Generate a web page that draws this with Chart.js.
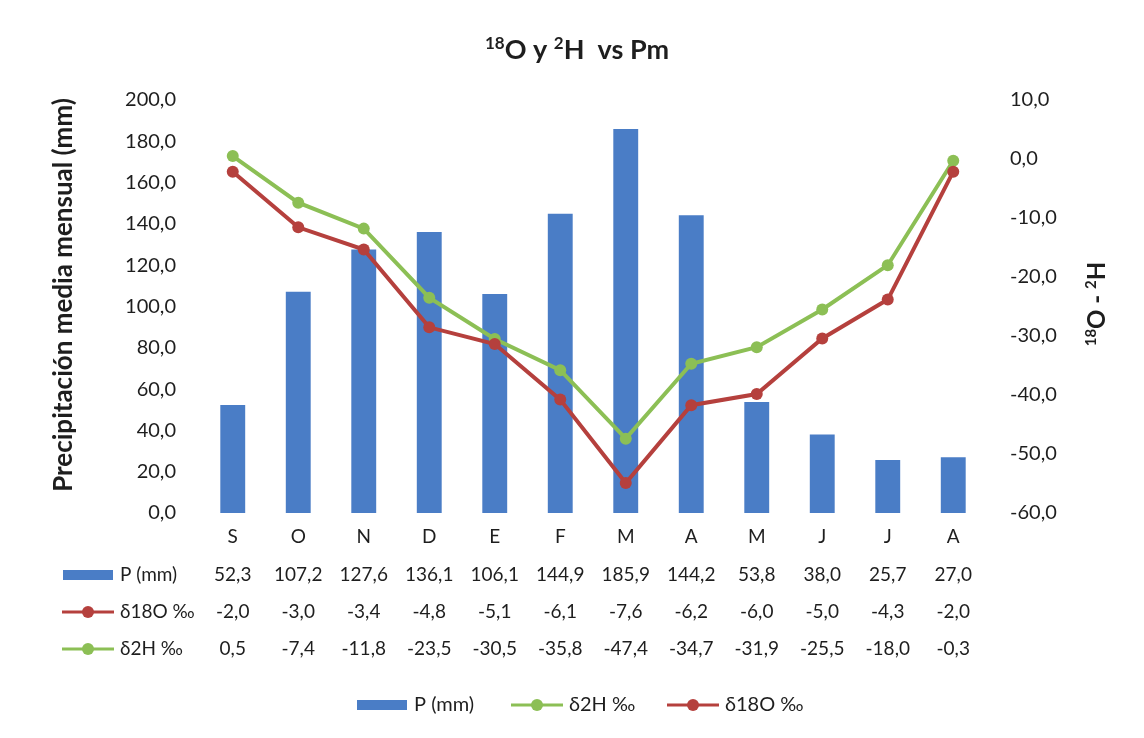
<!DOCTYPE html>
<html>
<head>
<meta charset="utf-8">
<title>18O y 2H vs Pm</title>
<script src="https://cdn.jsdelivr.net/npm/chart.js@4.4.1/dist/chart.umd.min.js"></script>
<style>
  html, body { margin: 0; padding: 0; background: #fff; }
  #wrap { width: 1144px; height: 738px; }
</style>
</head>
<body>
<div id="wrap"><canvas id="chart" width="1144" height="738"></canvas></div>
<script>
// Monthly data, hydrological year Sept -> Aug
const months = ['S', 'O', 'N', 'D', 'E', 'F', 'M', 'A', 'M', 'J', 'J', 'A'];
const precip = [52.3, 107.2, 127.6, 136.1, 106.1, 144.9, 185.9, 144.2, 53.8, 38.0, 25.7, 27.0];
const d18O = [-2.0, -3.0, -3.4, -4.8, -5.1, -6.1, -7.6, -6.2, -6.0, -5.0, -4.3, -2.0];
const d2H = [0.5, -7.4, -11.8, -23.5, -30.5, -35.8, -47.4, -34.7, -31.9, -25.5, -18.0, -0.3];

const FONT = 'Lato, "Open Sans", "DejaVu Sans", sans-serif';
const TEXT = '#1e1e1e';
const BLUE = '#4a7dc6';
const RED = '#b5403d';
const GREEN = '#8cbf55';

const fmt = v => v.toFixed(1).replace('.', ',');

// text with superscript runs, e.g. 18O
function richText(ctx, parts, x, y, size, weight) {
  const supSize = Math.round(size * 0.62);
  let w = 0;
  parts.forEach(p => {
    ctx.font = weight + ' ' + (p.sup ? supSize : size) + 'px ' + FONT;
    w += ctx.measureText(p.t).width;
  });
  let cx = x - w / 2;
  ctx.textAlign = 'left';
  ctx.textBaseline = 'alphabetic';
  parts.forEach(p => {
    ctx.font = weight + ' ' + (p.sup ? supSize : size) + 'px ' + FONT;
    ctx.fillText(p.t, cx, p.sup ? y - size * 0.36 : y);
    cx += ctx.measureText(p.t).width;
  });
}

function barKey(ctx, x, y) {
  ctx.fillStyle = BLUE;
  ctx.fillRect(x, y - 5, 50, 10);
}

function lineKey(ctx, x, y, color) {
  ctx.strokeStyle = color;
  ctx.lineWidth = 3;
  ctx.beginPath();
  ctx.moveTo(x, y);
  ctx.lineTo(x + 52, y);
  ctx.stroke();
  ctx.fillStyle = color;
  ctx.beginPath();
  ctx.arc(x + 26, y, 6, 0, Math.PI * 2);
  ctx.fill();
}

const decor = {
  id: 'decor',
  afterDraw(chart) {
    const ctx = chart.ctx;
    const xs = chart.scales.x;
    ctx.save();
    ctx.fillStyle = TEXT;

    // chart title
    richText(ctx, [
      { t: '18', sup: true }, { t: 'O y ' }, { t: '2', sup: true }, { t: 'H  vs Pm' }
    ], 577, 59, 27, 'bold');

    // left axis title
    ctx.save();
    ctx.translate(64, 295);
    ctx.rotate(-Math.PI / 2);
    ctx.font = 'bold 26px ' + FONT;
    ctx.textAlign = 'center';
    ctx.textBaseline = 'middle';
    ctx.fillText('Precipitación media mensual (mm)', 0, 0);
    ctx.restore();

    // right axis title
    ctx.save();
    ctx.translate(1105, 304);
    ctx.rotate(-Math.PI / 2);
    ctx.fillStyle = TEXT;
    richText(ctx, [
      { t: '18', sup: true }, { t: 'O - ' }, { t: '2', sup: true }, { t: 'H' }
    ], 0, 0, 24, 'bold');
    ctx.restore();

    // data table under the x axis
    const rows = [
      { label: 'P (mm)', data: precip, y: 575, key: 'bar' },
      { label: 'δ18O ‰', data: d18O, y: 612, key: RED },
      { label: 'δ2H ‰', data: d2H, y: 649, key: GREEN }
    ];
    rows.forEach(r => {
      if (r.key === 'bar') barKey(ctx, 63, r.y);
      else lineKey(ctx, 62, r.y, r.key);
      ctx.fillStyle = TEXT;
      ctx.font = '19px ' + FONT;
      ctx.textAlign = 'left';
      ctx.textBaseline = 'middle';
      ctx.fillText(r.label, 120, r.y);
      ctx.textAlign = 'center';
      r.data.forEach((v, i) => {
        ctx.fillText(fmt(v), xs.getPixelForValue(i), r.y);
      });
    });

    // legend
    const ly = 705;
    ctx.font = '20px ' + FONT;
    ctx.textAlign = 'left';
    ctx.textBaseline = 'middle';
    barKey(ctx, 357, ly);
    ctx.fillStyle = TEXT;
    ctx.fillText('P (mm)', 414, ly);
    lineKey(ctx, 511, ly, GREEN);
    ctx.fillStyle = TEXT;
    ctx.fillText('δ2H ‰', 569, ly);
    lineKey(ctx, 667, ly, RED);
    ctx.fillStyle = TEXT;
    ctx.fillText('δ18O ‰', 725, ly);

    ctx.restore();
  }
};

new Chart(document.getElementById('chart'), {
  data: {
    labels: months,
    datasets: [
      {
        type: 'line',
        label: 'δ18O ‰',
        data: d18O,
        yAxisID: 'yO',
        borderColor: RED,
        backgroundColor: RED,
        borderWidth: 4,
        pointRadius: 6,
        pointBorderWidth: 0,
        tension: 0,
        order: 1
      },
      {
        type: 'line',
        label: 'δ2H ‰',
        data: d2H,
        yAxisID: 'y2',
        borderColor: GREEN,
        backgroundColor: GREEN,
        borderWidth: 4,
        pointRadius: 6,
        pointBorderWidth: 0,
        tension: 0,
        order: 2
      },
      {
        type: 'bar',
        label: 'P (mm)',
        data: precip,
        yAxisID: 'y',
        backgroundColor: BLUE,
        barPercentage: 0.38,
        categoryPercentage: 1,
        order: 3
      }
    ]
  },
  options: {
    responsive: false,
    animation: false,
    layout: { padding: { top: 100, left: 0, right: 0, bottom: 0 } },
    plugins: {
      legend: { display: false },
      title: { display: false },
      tooltip: { enabled: false }
    },
    scales: {
      x: {
        grid: { display: false, drawTicks: false },
        border: { display: false },
        ticks: { color: TEXT, font: { family: FONT, size: 19 }, padding: 12 },
        afterFit(s) { s.height = 225; }
      },
      y: {
        position: 'left',
        min: 0,
        max: 200,
        grid: { display: false, drawTicks: false },
        border: { display: false },
        ticks: {
          stepSize: 20,
          color: TEXT,
          font: { family: FONT, size: 20 },
          padding: 24,
          callback: v => fmt(v)
        },
        afterFit(s) { s.width = 200; }
      },
      y2: {
        position: 'right',
        min: -60,
        max: 10,
        grid: { display: false, drawTicks: false },
        border: { display: false },
        ticks: {
          stepSize: 10,
          color: TEXT,
          font: { family: FONT, size: 20 },
          padding: 24,
          callback: v => fmt(v)
        },
        afterFit(s) { s.width = 158; }
      },
      // own scale for the oxygen series
      yO: {
        display: false,
        min: -8.14,
        max: -0.71
      }
    }
  },
  plugins: [decor]
});
</script>
</body>
</html>
